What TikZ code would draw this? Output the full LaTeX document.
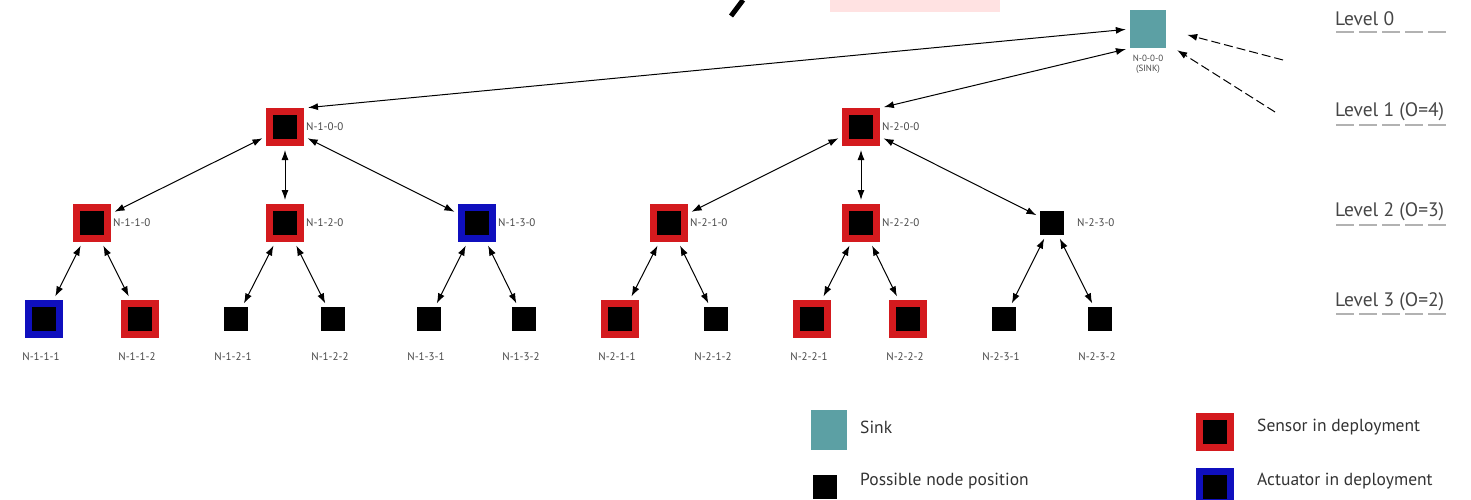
\documentclass[tikz,border=0pt]{standalone}
\usepackage{fontspec}
\setmainfont{PT Sans}
\usetikzlibrary{arrows.meta}
\definecolor{sinkcol}{RGB}{92,160,164}
\definecolor{sensred}{RGB}{212,26,30}
\definecolor{actblue}{RGB}{15,15,190}
\definecolor{lblgray}{RGB}{70,70,70}
\definecolor{pinkband}{RGB}{255,226,226}
\tikzset{
  sensor/.style={draw=sensred, fill=black, line width=7pt, minimum size=31pt, inner sep=0pt, outer sep=3.5pt},
  actuator/.style={draw=actblue, fill=black, line width=7pt, minimum size=31pt, inner sep=0pt, outer sep=3.5pt},
  plain/.style={fill=black, minimum size=24pt, inner sep=0pt, outer sep=0pt},
  sinkbox/.style={fill=sinkcol, minimum width=36pt, minimum height=38pt, inner sep=0pt},
  nlbl/.style={font=\fontsize{11}{12}\selectfont, text=lblgray, inner sep=0pt},
  lvl/.style={font=\fontsize{19.5}{21}\selectfont, text=lblgray, anchor=west, inner sep=0pt},
  leg/.style={font=\fontsize{17.5}{20}\selectfont, text=black!80, anchor=west, inner sep=0pt},
  link/.style={{Latex[length=10pt,width=7pt]}-{Latex[length=10pt,width=7pt]}, line width=1pt, shorten <=4pt, shorten >=4pt},
  dlink/.style={-{Latex[length=10pt,width=7pt]}, line width=1pt, dash pattern=on 9pt off 4pt},
  uline/.style={draw=black!30, line width=2.5pt, dash pattern=on 18pt off 5pt}
}
\begin{document}
\begin{tikzpicture}[x=1pt,y=-1pt]
\useasboundingbox (0,0) rectangle (1471,500);
% cut-off bits at the top edge
\fill[pinkband] (830,0) rectangle (1000,12);
\draw[line width=5pt] (743,0) -- (731,16);
% sink
\node[sinkbox] (sink) at (1148,29) {};
\node[nlbl, font=\fontsize{9}{10}\selectfont] (sinkl1) at (1148,58) {N-0-0-0};
\node[nlbl, font=\fontsize{9}{10}\selectfont] (sinkl2) at (1148,69) {(SINK)};
% level 1
\node[sensor] (n100) at (285,127) {};
\node[sensor] (n200) at (861,127) {};
% level 2
\node[sensor] (n110) at (92,223) {};
\node[sensor] (n120) at (285,223) {};
\node[actuator] (n130) at (477,223) {};
\node[sensor] (n210) at (669,223) {};
\node[sensor] (n220) at (861,223) {};
\node[plain] (n230) at (1052,223) {};
% level 3
\node[actuator] (n111) at (44,319) {};
\node[sensor] (n112) at (140,319) {};
\node[plain] (n121) at (236,319) {};
\node[plain] (n122) at (333,319) {};
\node[plain] (n131) at (429,319) {};
\node[plain] (n132) at (524,319) {};
\node[sensor] (n211) at (620,319) {};
\node[plain] (n212) at (716,319) {};
\node[sensor] (n221) at (812,319) {};
\node[sensor] (n222) at (908,319) {};
\node[plain] (n231) at (1004,319) {};
\node[plain] (n232) at (1100,319) {};
% labels right of nodes
\foreach \n/\t in {n100/N-1-0-0, n200/N-2-0-0, n110/N-1-1-0, n120/N-1-2-0, n130/N-1-3-0, n210/N-2-1-0, n220/N-2-2-0}
  \node[nlbl, anchor=west] (\n l) at ([xshift=2pt]\n.east) {\t};
\node[nlbl, anchor=west] (n230l) at ([xshift=13pt]n230.east) {N-2-3-0};
% labels under level 3
\foreach \n/\t in {n111/N-1-1-1, n112/N-1-1-2, n121/N-1-2-1, n122/N-1-2-2, n131/N-1-3-1, n132/N-1-3-2, n211/N-2-1-1, n212/N-2-1-2, n221/N-2-2-1, n222/N-2-2-2, n231/N-2-3-1, n232/N-2-3-2}
  \node[nlbl] (\n l) at ([xshift=-3pt,yshift=-38pt]\n.center) {\t};
% links
\draw[link] (n100.north east) -- (sink.west);
\draw[link] (n200.north east) -- (sink.south west);
\foreach \a/\b in {n100/n110, n100/n120, n100/n130, n200/n210, n200/n220, n200/n230,
  n110/n111, n110/n112, n120/n121, n120/n122, n130/n131, n130/n132,
  n210/n211, n210/n212, n220/n221, n220/n222, n230/n231, n230/n232}
  \draw[link] (\a) -- (\b);
% dashed incoming
\coordinate (d1) at (1283,60);
\coordinate (d2) at (1275,112);
\draw[dlink] (d1) -- ([xshift=21pt,yshift=-25pt]sink.north east);
\draw[dlink] (d2) -- ([xshift=11pt,yshift=-2pt]sink.south east);
% level labels
\node[lvl] (lv0) at (1335,19) {Level 0};
\node[lvl] (lv1) at (1335,112) {Level 1 (O=4)};
\node[lvl] (lv2) at (1335,212) {Level 2 (O=3)};
\node[lvl] (lv3) at (1335,302) {Level 3 (O=2)};
\foreach \y in {32,125,225,314}
  \draw[uline] (1336,\y) -- (1450,\y);
% legend
\node[sinkbox, minimum height=40pt] (lgs) at (829,430) {};
\node[leg] (lgst) at (860,427) {Sink};
\node[plain] (lgp) at (825,487) {};
\node[leg] (lgpt) at (860,481) {Possible node position};
\node[sensor] (lgr) at (1215,432) {};
\node[leg] (lgrt) at (1257,427) {Sensor in deployment};
\node[actuator] (lgb) at (1215,487) {};
\node[leg] (lgbt) at (1257,481) {Actuator in deployment};
\end{tikzpicture}
\end{document}
